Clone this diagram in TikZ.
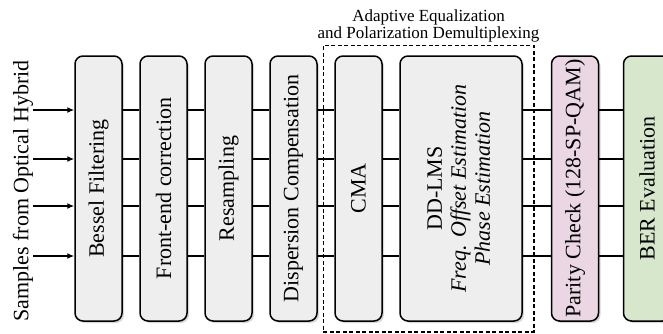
\documentclass[tikz,border=0pt]{standalone}
\usepackage{fontspec}
\setmainfont{Liberation Serif}
\usetikzlibrary{positioning,fit,shadows,arrows.meta}
\definecolor{boxgray}{HTML}{EEEEEE}
\definecolor{boxpink}{HTML}{EAD7E3}
\definecolor{boxgreen}{HTML}{D6E7CC}
\tikzset{
  block/.style={draw,line width=1.5pt,rounded corners=8pt,minimum width=47pt,minimum height=265pt,
    inner sep=0pt,fill=#1,drop shadow={shadow xshift=2pt,shadow yshift=-2pt,fill=black!30}},
  block/.default=boxgray,
  link/.style={line width=1.3pt},
}
\begin{document}
\begin{tikzpicture}[x=1pt,y=-1pt,font=\fontsize{22}{24}\selectfont]
\clip (0,0) rectangle (663,333);
\node[rotate=90] (src) at (23,191) {Samples from Optical Hybrid};

\node[block] (bf) at (98.5,188.5) {\rotatebox{90}{Bessel Filtering}};
\node[block] (fe) at (163.5,188.5) {\rotatebox{90}{Front-end correction}};
\node[block] (rs) at (228.5,188.5) {\rotatebox{90}{Resampling}};
\node[block] (dc) at (293.5,188.5) {\rotatebox{90}{Dispersion Compensation}};
\node[block] (cma) at (358.5,188.5) {\rotatebox{90}{CMA}};
\node[block,minimum width=122pt] (dd) at (461,188.5) {\rotatebox{90}{\begin{tabular}{@{}c@{}}DD-LMS\\ \textit{Freq. Offset Estimation}\\ \textit{Phase Estimation}\end{tabular}}};
\node[block=boxpink] (pc) at (575,188.5) {\rotatebox{90}{Parity Check (128-SP-QAM)}};
\node[block=boxgreen] (ber) at (647,188.5) {\rotatebox{90}{BER Evaluation}};

% adaptive equalization stage
\node[draw,line width=1.5pt,dash pattern=on 4pt off 2.5pt,fit=(cma)(dd),inner xsep=11pt,inner ysep=10pt] (eq) {};
\node[above=-1pt of eq,align=center,font=\fontsize{17}{17}\selectfont] (eqlbl) {Adaptive Equalization\\and Polarization Demultiplexing};

% four signal paths
\foreach \y [count=\i] in {110,159,206,256} {
  \coordinate (in\i) at (33,\y);
  \draw[link,-{Latex[length=7pt,width=6pt]}] (in\i) -- (bf.west |- in\i);
  \foreach \a/\b in {bf/fe,fe/rs,rs/dc,dc/cma,cma/dd,dd/pc,pc/ber}
    \draw[link] (\a.east |- in\i) -- (\b.west |- in\i);
}
\end{tikzpicture}
\end{document}
